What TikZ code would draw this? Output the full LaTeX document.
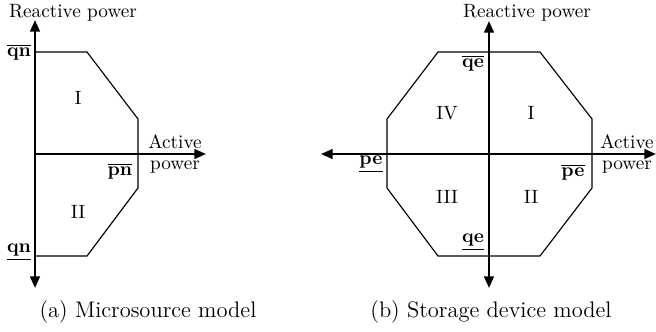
\documentclass[tikz,border=0pt]{standalone}
\usetikzlibrary{arrows.meta}
\begin{document}
\begin{tikzpicture}[x=0.52pt,y=-0.52pt,
  tip/.tip={Triangle[length=6pt,width=5pt]},
  axisone/.style={line width=1.1pt,-tip},
  axistwo/.style={line width=1.1pt,tip-tip},
  bound/.style={line width=0.6pt,line join=miter},
  lbl/.style={inner sep=0pt},
  capt/.style={inner sep=0pt,font=\fontsize{11.7}{14}\selectfont}]
\useasboundingbox (0,0) rectangle (656,331);
% ---------- (a) microsource ----------
\coordinate (o1) at (35,154);
\coordinate (n1) at (35,20);
\coordinate (s1) at (35,288);
\coordinate (e1) at (206,154);
\coordinate (a1) at (35,52);
\coordinate (a2) at (87,52);
\coordinate (a3) at (138,119);
\coordinate (a4) at (138,188);
\coordinate (a5) at (87,256);
\coordinate (a6) at (35,256);
\draw[bound] (a1) -- (a2) -- (a3) -- (a4) -- (a5) -- (a6);
\draw[axistwo] (n1) -- (s1);
\draw[axisone] (o1) -- (e1);
\node[lbl] (rpa) at (73,13) {Reactive power};
\node[lbl] (qna) at (19,52) {$\overline{\mathbf{qn}}$};
\node[lbl] (qnb) at (19,252) {$\underline{\mathbf{qn}}$};
\node[lbl] (pna) at (120,171) {$\overline{\mathbf{pn}}$};
\node[lbl] (aca) at (175,142) {Active};
\node[lbl] (poa) at (175,167) {power};
\node[lbl] (ra1) at (78,98) {I};
\node[lbl] (ra2) at (78,212) {II};
\node[capt] (capa) at (148,312) {(a) Microsource model};
% ---------- (b) storage ----------
\coordinate (o2) at (489,154);
\coordinate (n2) at (489,21);
\coordinate (s2) at (489,288);
\coordinate (w2) at (321,154);
\coordinate (e2) at (656,154);
\coordinate (b1) at (438,52);
\coordinate (b2) at (540,52);
\coordinate (b3) at (592,119);
\coordinate (b4) at (592,188);
\coordinate (b5) at (540,256);
\coordinate (b6) at (438,256);
\coordinate (b7) at (387,188);
\coordinate (b8) at (387,119);
\draw[bound] (b1) -- (b2) -- (b3) -- (b4) -- (b5) -- (b6) -- (b7) -- (b8) -- cycle;
\draw[axistwo] (n2) -- (s2);
\draw[axistwo] (w2) -- (e2);
\node[lbl] (rpb) at (527,13) {Reactive power};
\node[lbl] (qeo) at (473,63) {$\overline{\mathbf{qe}}$};
\node[lbl] (qeu) at (473,242) {$\underline{\mathbf{qe}}$};
\node[lbl] (peu) at (371,164) {$\underline{\mathbf{pe}}$};
\node[lbl] (peo) at (573,172) {$\overline{\mathbf{pe}}$};
\node[lbl] (acb) at (627,142) {Active};
\node[lbl] (pob) at (627,167) {power};
\node[lbl] (rb4) at (447,113) {IV};
\node[lbl] (rb1) at (531,113) {I};
\node[lbl] (rb3) at (447,197) {III};
\node[lbl] (rb2) at (531,197) {II};
\node[capt] (capb) at (491,312) {(b) Storage device model};
\end{tikzpicture}
\end{document}
